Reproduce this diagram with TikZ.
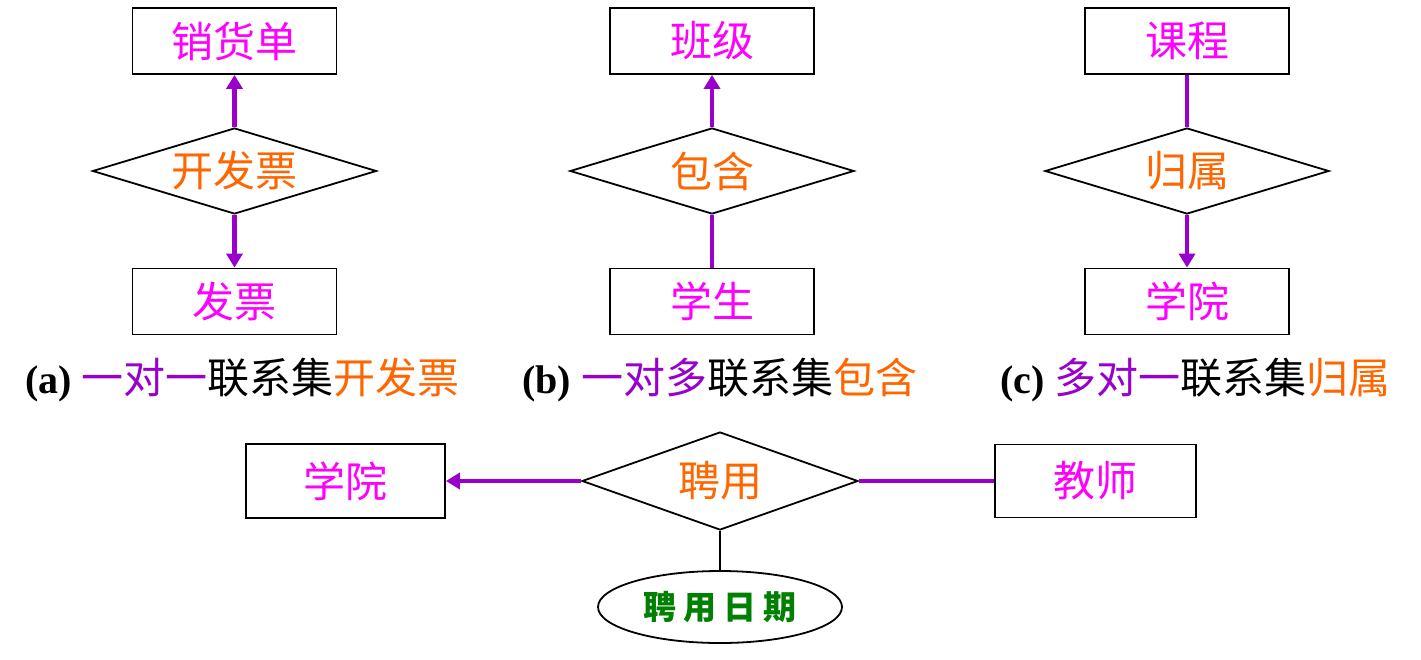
\documentclass[tikz,border=0pt]{standalone}
\usepackage{fontspec}
\setmainfont{Liberation Serif}
\newfontfamily\cjk{Noto Sans CJK SC}
\usetikzlibrary{shapes.geometric,arrows.meta}
\definecolor{entc}{RGB}{255,0,255}
\definecolor{relc}{RGB}{255,102,0}
\definecolor{linec}{RGB}{153,0,204}
\definecolor{attc}{RGB}{0,128,0}
\tikzset{
  ent/.style={draw, line width=1.8pt, minimum width=204pt, minimum height=66pt, inner sep=0pt,
    font=\cjk\fontsize{42}{44}\selectfont, text=entc},
  rel/.style={diamond, draw, line width=1.8pt, minimum width=284pt, minimum height=86pt, inner sep=0pt,
    aspect=3.3, font=\cjk\fontsize{42}{44}\selectfont, text=relc},
  att/.style={ellipse, draw, line width=1.8pt, minimum width=244pt, minimum height=72pt, inner sep=0pt,
    font=\cjk\bfseries\fontsize{33}{36}\selectfont, text=attc},
  conn/.style={line width=4.5pt, draw=linec},
  arr/.style={conn, -{Triangle[length=14pt,width=16pt]}},
  thinline/.style={line width=1.8pt, draw=black},
  captext/.style={anchor=west, inner sep=0pt, font=\fontsize{40}{44}\selectfont},
}
\newcommand{\cjkcap}{\cjk\fontsize{42}{44}\selectfont}
\begin{document}
\begin{tikzpicture}[x=1pt,y=-1pt]
\useasboundingbox (0,0) rectangle (1421,659);
% (a)
\node[ent] (xhd) at (234.5,41) {销货单};
\node[rel] (kfp) at (234.5,171) {开发票};
\node[ent] (fp) at (234.5,301.5) {发票};
\draw[arr] (kfp.north) -- (xhd.south);
\draw[arr] (kfp.south) -- (fp.north);
% (b)
\node[ent] (bj) at (712,41) {班级};
\node[rel] (bh) at (712,171) {包含};
\node[ent] (xs) at (712,301.5) {学生};
\draw[arr] (bh.north) -- (bj.south);
\draw[conn] (xs.north) -- (bh.south);
% (c)
\node[ent] (kc) at (1187,41) {课程};
\node[rel] (gs) at (1187,171) {归属};
\node[ent] (xy) at (1187,301.5) {学院};
\draw[conn] (kc.south) -- (gs.north);
\draw[arr] (gs.south) -- (xy.north);
% captions
\node[captext] (capa) at (25,380) {\textbf{(a)} {\cjkcap\color{linec}一对一}{\cjkcap 联系集}{\cjkcap\color{relc}开发票}};
\node[captext] (capb) at (522,380) {\textbf{(b)} {\cjkcap\color{linec}一对多}{\cjkcap 联系集}{\cjkcap\color{relc}包含}};
\node[captext] (capc) at (1000,380) {\textbf{(c)} {\cjkcap\color{linec}多对一}{\cjkcap 联系集}{\cjkcap\color{relc}归属}};
% bottom
\node[ent, minimum width=199pt, minimum height=74pt] (xy2) at (345.5,481) {学院};
\node[rel, minimum width=276pt, minimum height=98pt] (py) at (720,481) {聘用};
\node[ent, minimum width=201pt, minimum height=73pt] (js) at (1095.5,481) {教师};
\node[att] (pyrq) at (720,607) {聘\hspace{7pt}用\hspace{7pt}日\hspace{7pt}期};
\draw[arr, line width=4pt] (py.west) -- (xy2.east);
\draw[conn, line width=4pt] (py.east) -- (js.west);
\draw[thinline] (py.south) -- (pyrq.north);
\end{tikzpicture}
\end{document}
